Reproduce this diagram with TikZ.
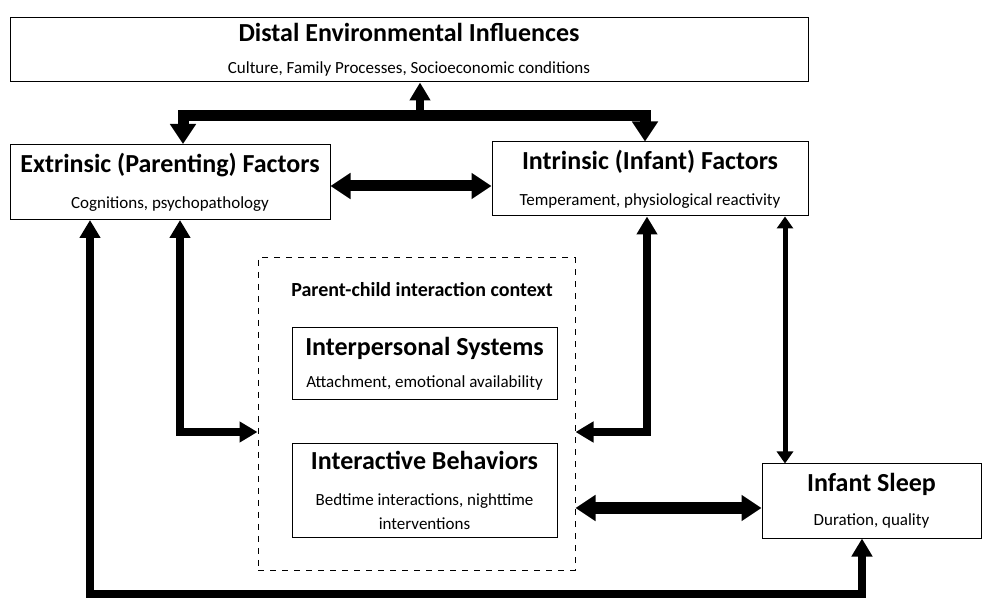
\documentclass[tikz,border=0pt]{standalone}
\usepackage{fontspec}
\setmainfont{Carlito}
\usetikzlibrary{arrows.meta, positioning}
\tikzset{
  box/.style     = {draw, line width=0.5pt, align=center, inner sep=2pt},
  ctxbox/.style  = {draw, dashed, line width=0.5pt},
  ctxlabel/.style= {font=\fontsize{10}{12}\selectfont\bfseries},
  fat/.style     = {line width=5.5pt, >={Triangle[length=10pt, width=12.5pt]}},
  mid/.style     = {line width=4pt, >={Triangle[length=9pt, width=10pt]}},
  slim/.style    = {line width=2.5pt, >={Triangle[length=6pt, width=8pt]}},
}
\newcommand{\ttl}{\fontsize{13}{15}\selectfont\bfseries}
\newcommand{\sub}{\fontsize{8.5}{10}\selectfont}

\begin{document}
\begin{tikzpicture}[x=0.5pt, y=-0.5pt]
\useasboundingbox (0,0) rectangle (982,599);

% boxes
\node[box, minimum width=399pt, minimum height=32pt] (distal) at (409,50)
  {{\ttl Distal Environmental Influences}\\[4pt]{\sub Culture, Family Processes, Socioeconomic conditions}};
\node[box, minimum width=160pt, minimum height=37.5pt] (extr) at (170,182)
  {{\ttl Extrinsic (Parenting) Factors}\\[6pt]{\sub Cognitions, psychopathology}};
\node[box, minimum width=158pt, minimum height=37pt] (intr) at (650,179)
  {{\ttl Intrinsic (Infant) Factors}\\[6pt]{\sub Temperament,\ physiological reactivity}};
\node[ctxbox, minimum width=158.5pt, minimum height=156pt] (ctx) at (416.5,414) {};
\node[ctxlabel] (ctxlab) at (422,290) {Parent-child interaction context};
\node[box, minimum width=132.5pt, minimum height=36pt] (pers) at (424.5,364)
  {{\ttl Interpersonal Systems}\\[4pt]{\sub Attachment, emotional availability}};
\node[box, minimum width=132.5pt, minimum height=46.5pt] (behav) at (424.5,490.5)
  {{\ttl Interactive Behaviors}\\[6pt]{\sub Bedtime interactions, nighttime}\\{\sub interventions}};
\node[box, minimum width=109.5pt, minimum height=37pt] (sleep) at (871.5,501)
  {{\ttl Infant Sleep}\\[5pt]{\sub Duration, quality}};

% junctions
\coordinate (split) at (420,116);
\coordinate (jl) at (183,116);
\coordinate (jr) at (645,116);
\coordinate (pl) at (180,432);
\coordinate (pr) at (647,432);
\coordinate (sv) at (785,0);
\coordinate (ei) at (0,186);
\coordinate (bs) at (0,508);
\coordinate (bl) at (90,594);
\coordinate (br) at (862,594);

% connectors
\draw[mid, ->] (split) -- (split |- distal.south);
\draw[fat, <->] (extr.north -| jl) -- (jl) -- (jr) -- (intr.north -| jr);
\draw[fat, <->] (extr.east |- ei) -- (intr.west |- ei);
\draw[mid, <->] (extr.south -| pl) -- (pl) -- (ctx.west |- pl);
\draw[mid, <->] (intr.south -| pr) -- (pr) -- (ctx.east |- pr);
\draw[slim, <->] (intr.south -| sv) -- (sleep.north -| sv);
\draw[fat, <->] (ctx.east |- bs) -- (sleep.west |- bs);
\draw[mid, <->] (extr.south -| bl) -- (bl) -- (br) -- (sleep.south -| br);

\end{tikzpicture}
\end{document}
